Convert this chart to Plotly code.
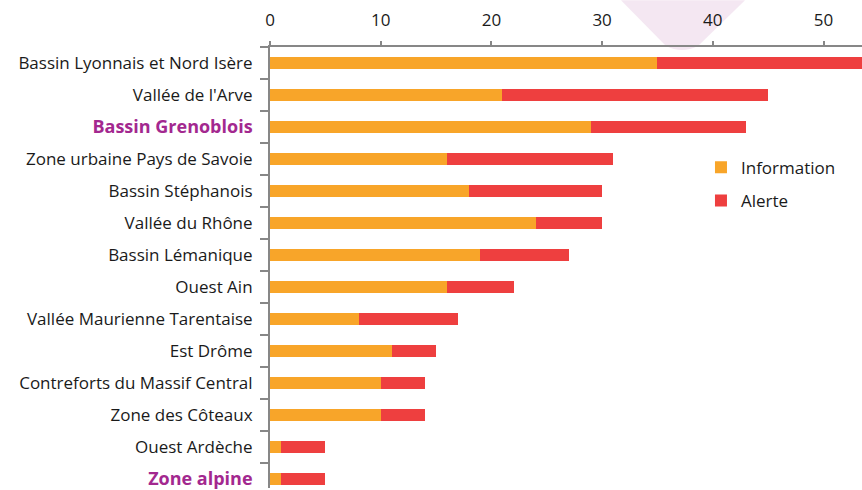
import plotly.graph_objects as go

categories = [
    "Bassin Lyonnais et Nord Isère",
    "Vallée de l'Arve",
    "Bassin Grenoblois",
    "Zone urbaine Pays de Savoie",
    "Bassin Stéphanois",
    "Vallée du Rhône",
    "Bassin Lémanique",
    "Ouest Ain",
    "Vallée Maurienne Tarentaise",
    "Est Drôme",
    "Contreforts du Massif Central",
    "Zone des Côteaux",
    "Ouest Ardèche",
    "Zone alpine",
]
information = [35, 21, 29, 16, 18, 24, 19, 16, 8, 11, 10, 10, 1, 1]
alerte = [20, 24, 14, 15, 12, 6, 8, 6, 9, 4, 4, 4, 4, 4]
highlighted = ["Bassin Grenoblois", "Zone alpine"]
tick_vals = [0, 10, 20, 30, 40, 50]

W, H = 862, 490
ML, MT = 270, 47
PW, PH = W - ML, H - MT

ORANGE = "#F8A529"
RED = "#EE3F3F"
PURPLE = "#A3288F"

ticktext = [
    f"<b><span style='color:{PURPLE};font-size:18px'>{c}</span></b>" if c in highlighted else c
    for c in categories
]

fig = go.Figure()
fig.add_trace(go.Bar(y=categories, x=information, orientation="h", name="Information",
                     marker=dict(color=ORANGE, line=dict(width=0)), width=0.4,
                     legendgroup="a"))
fig.add_trace(go.Bar(y=categories, x=alerte, orientation="h", name="Alerte",
                     marker=dict(color=RED, line=dict(width=0)), width=0.4,
                     legendgroup="b"))


def px(x):
    return (x - ML) / PW


def py(y):
    return 1 - (y - MT) / PH


path = (f"M {px(621)},{py(0)} L {px(666)},{py(46)} "
        f"Q {px(682)},{py(54)} {px(698)},{py(46)} L {px(745)},{py(0)} Z")
fig.add_shape(type="path", path=path, xref="paper", yref="paper",
              fillcolor="#F4E7F2", line=dict(width=0), layer="below")

fig.update_layout(
    width=W, height=H,
    margin=dict(l=ML, r=0, t=MT, b=0),
    barmode="stack",
    plot_bgcolor="white", paper_bgcolor="white",
    font=dict(family="Open Sans", size=17, color="#1a1a1a"),
    showlegend=True,
    legend=dict(x=0.728, y=0.767, xanchor="left", yanchor="top",
                traceorder="grouped", tracegroupgap=8,
                font=dict(size=17), bgcolor="rgba(0,0,0,0)"),
    xaxis=dict(side="top", range=[0, (W - ML) / 11.07], tickvals=tick_vals,
               showgrid=False, zeroline=False, showline=True, linecolor="#878787",
               linewidth=2, ticks="outside", ticklen=4, tickcolor="#878787",
               tickwidth=1.5, ticklabelstandoff=8, tickfont=dict(size=17)),
    yaxis=dict(categoryorder="array", categoryarray=categories,
               range=[13.28, -0.5], tickmode="array", tickvals=categories,
               ticktext=ticktext, tickson="boundaries", ticks="outside",
               ticklen=8, tickcolor="#878787", tickwidth=2,
               showline=True, linecolor="#878787", linewidth=2,
               showgrid=False, zeroline=False, ticklabelstandoff=12,
               tickfont=dict(size=17)),
)

fig.write_html("out.html", config={"displayModeBar": False},
               post_script="document.body.style.margin='0px';")
